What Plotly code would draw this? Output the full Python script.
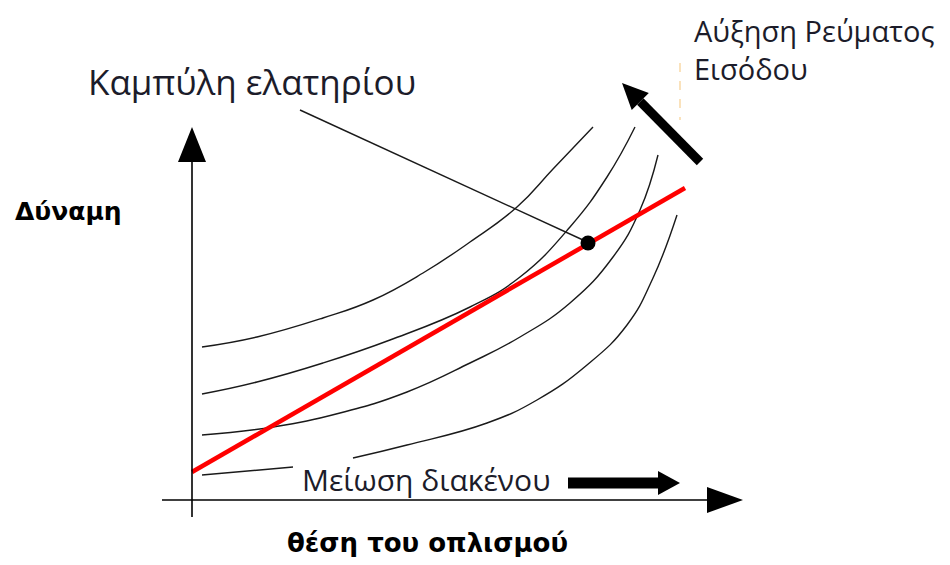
import plotly.graph_objects as go
import math

# ---- data (origin at axis crossing; 1 unit = 1 px) ----
curve1_x = [10, 65, 131, 181, 231, 278, 325, 361, 401]
curve1_y = [153, 163, 182, 200, 227, 258, 293, 331, 373]

curve2_x = [10, 65, 131, 198, 278, 328, 378, 415, 443]
curve2_y = [106, 118, 137, 160, 193, 223, 273, 323, 373]

curve3_x = [10, 81, 148, 215, 278, 328, 378, 421, 448, 466]
curve3_y = [65, 73, 87, 108, 137, 163, 197, 243, 290, 345]

curve4_x = [10, 101, None, 161, 215, 295, 345, 395, 435, 461, 485]
curve4_y = [25, 33, None, 42, 55, 77, 100, 135, 175, 222, 285]

spring_x = [0, 493]
spring_y = [28, 312]

point_x = [396]
point_y = [257]

leader_x = [108, 391]
leader_y = [390, 260]

label_spring = "Καμπύλη ελατηρίου"
label_current = "Αύξηση Ρεύματος<br>Εισόδου"
label_gap = "Μείωση διακένου"
label_force = "Δύναμη"
label_position = "θέση του οπλισμού"

fig = go.Figure()

for cx, cy in [(curve1_x, curve1_y), (curve2_x, curve2_y), (curve3_x, curve3_y), (curve4_x, curve4_y)]:
    fig.add_trace(go.Scatter(x=cx, y=cy, mode="lines", line=dict(color="#1a1a1a", width=1.4, shape="spline", smoothing=1.3),
                             connectgaps=False, hoverinfo="skip", showlegend=False))

fig.add_trace(go.Scatter(x=leader_x, y=leader_y, mode="lines", line=dict(color="#1a1a1a", width=1.4),
                         hoverinfo="skip", showlegend=False))
fig.add_trace(go.Scatter(x=spring_x, y=spring_y, mode="lines", line=dict(color="#ff0000", width=4.5),
                         hoverinfo="skip", showlegend=False))
fig.add_trace(go.Scatter(x=point_x, y=point_y, mode="markers", marker=dict(color="black", size=15),
                         hoverinfo="skip", showlegend=False))

shapes = []

def arrow(tail, tip, width, head_len, head_half):
    dx, dy = tip[0] - tail[0], tip[1] - tail[1]
    L = math.hypot(dx, dy)
    ux, uy = dx / L, dy / L
    px, py = -uy, ux
    bx, by = tip[0] - head_len * ux, tip[1] - head_len * uy
    if width > 0:
        shapes.append(dict(type="line", x0=tail[0], y0=tail[1], x1=bx, y1=by,
                           line=dict(color="black", width=width)))
    path = "M {} {} L {} {} L {} {} Z".format(tip[0], tip[1], bx + head_half * px, by + head_half * py,
                                               bx - head_half * px, by - head_half * py)
    shapes.append(dict(type="path", path=path, fillcolor="black", line=dict(color="black", width=0)))

# axes
shapes.append(dict(type="line", x0=0, y0=-17, x1=0, y1=340, line=dict(color="black", width=1.6)))
arrow((0, 338), (0, 373), 0, 35, 14)
shapes.append(dict(type="line", x0=-30, y0=0, x1=517, y1=0, line=dict(color="black", width=1.6)))
arrow((515, 0), (551, 0), 0, 36, 13)

# thick arrows
arrow((508, 338), (430, 417), 9, 26, 12)
arrow((376, 17), (488, 17), 11, 22, 12)

# faint cursor line
shapes.append(dict(type="line", x0=488, y0=437, x1=488, y1=380,
                   line=dict(color="#f9d9a6", width=1.5, dash="dash")))

fig.update_layout(shapes=shapes)

txt = "#1c1c2a"
fig.add_annotation(x=60, y=419, text=label_spring, showarrow=False,
                   font=dict(family="Open Sans", size=35, color=txt), xanchor="center", yanchor="middle")
fig.add_annotation(x=500, y=488, yshift=3, text=label_current, showarrow=False, align="left",
                   font=dict(family="Open Sans", size=29, color=txt), xanchor="left", yanchor="top")
fig.add_annotation(x=234, y=21, text=label_gap, showarrow=False,
                   font=dict(family="Open Sans", size=30, color=txt), xanchor="center", yanchor="middle")
fig.add_annotation(x=-124, y=289, text="<b>" + label_force + "</b>", showarrow=False,
                   font=dict(family="DejaVu Sans", size=25, color="black"), xanchor="center", yanchor="middle")
fig.add_annotation(x=235, y=-43, text="<b>" + label_position + "</b>", showarrow=False,
                   font=dict(family="DejaVu Sans", size=26, color="black"), xanchor="center", yanchor="middle")

# page body has an 8px margin: size the figure to the remaining viewport, 1 unit = 1 px
fig.update_xaxes(range=[-184, 750], visible=False, fixedrange=True)
fig.update_yaxes(range=[-57, 492], visible=False, fixedrange=True)
fig.update_layout(width=934, height=549, margin=dict(l=0, r=0, t=0, b=0),
                  plot_bgcolor="white", paper_bgcolor="white")

fig.write_html("out.html")
